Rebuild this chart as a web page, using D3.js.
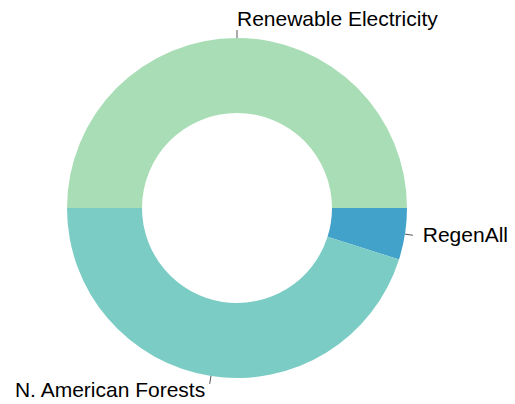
<!DOCTYPE html>
<html>
<head>
<meta charset="utf-8">
<script src="https://cdn.jsdelivr.net/npm/d3@7"></script>
<style>
  html, body { margin: 0; padding: 0; background: #fff; }
  svg { display: block; }
</style>
</head>
<body>
<div id="chart"></div>
<script>
const categories = ["Renewable Electricity", "RegenAll", "N. American Forests"];
const values = [50, 4.9, 45.1];
const colors = ["#a8ddb5", "#43a2ca", "#7bccc4"];

const width = 515, height = 404;
const cx = 237, cy = 208;
const outerR = 170, innerR = 95;

const svg = d3.select("#chart").append("svg")
  .attr("width", width).attr("height", height);

const g = svg.append("g").attr("transform", `translate(${cx},${cy})`);

const data = categories.map((c, i) => ({ name: c, value: values[i], color: colors[i] }));

const pie = d3.pie().value(d => d.value).sort(null)
  .startAngle(-Math.PI / 2).endAngle(1.5 * Math.PI);
const arcs = pie(data);

const arc = d3.arc().innerRadius(innerR).outerRadius(outerR);

g.selectAll("path.slice").data(arcs).join("path")
  .attr("class", "slice")
  .attr("d", arc)
  .attr("fill", d => d.data.color);

function endPoint(d, r) {
  const a = (d.startAngle + d.endAngle) / 2;
  return [r * Math.sin(a), -r * Math.cos(a), a];
}

g.selectAll("line.leader").data(arcs).join("line")
  .attr("class", "leader")
  .attr("x1", d => endPoint(d, outerR)[0])
  .attr("y1", d => endPoint(d, outerR)[1])
  .attr("x2", d => endPoint(d, outerR + 8)[0])
  .attr("y2", d => endPoint(d, outerR + 8)[1])
  .attr("stroke", "#555")
  .attr("stroke-width", 1);

g.selectAll("text.label").data(arcs).join("text")
  .attr("class", "label")
  .attr("x", d => {
    const [x, , a] = endPoint(d, outerR + 8);
    const s = Math.sin(a);
    return x + s * 10 + (s < -1e-6 ? -3 : 0);
  })
  .attr("y", d => {
    const [, y, a] = endPoint(d, outerR + 8);
    const c = Math.cos(a);
    if (c > 0.5) return y - 4;
    if (c < -0.5) return y + 13;
    return y + 7;
  })
  .attr("text-anchor", d => { const a = endPoint(d, outerR)[2]; return Math.sin(a) >= -1e-6 ? "start" : "end"; })
  .attr("font-family", "Liberation Sans, Arial, sans-serif")
  .attr("font-size", 21)
  .attr("fill", "#000")
  .text(d => d.data.name);
</script>
</body>
</html>
